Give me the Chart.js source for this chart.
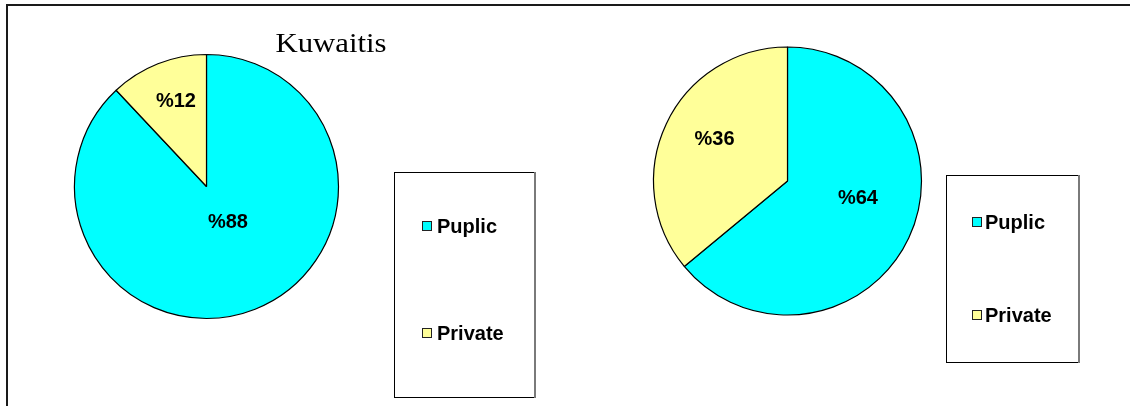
<!DOCTYPE html>
<html>
<head>
<meta charset="utf-8">
<script src="https://cdn.jsdelivr.net/npm/chart.js@4.4.1/dist/chart.umd.min.js"></script>
<style>
  html, body { margin: 0; padding: 0; background: #fff; }
  body { width: 1130px; height: 406px; position: relative; overflow: hidden; }
  #frame {
    position: absolute; left: 6px; top: 4px; width: 1200px; height: 500px;
    border-left: 2px solid #1a1a1a; border-top: 2px solid #1a1a1a;
  }
  canvas { position: absolute; top: 0; }
  #pieLeft { left: 0; }
  #pieRight { left: 565px; }
</style>
</head>
<body>
<div id="frame"></div>
<canvas id="pieLeft" width="565" height="406"></canvas>
<canvas id="pieRight" width="565" height="406"></canvas>
<script>
// Sector categories and shares (percent)
const categories = ['Puplic', 'Private'];
const kuwaitisShares = [88, 12];
const secondShares = [64, 36];
const leftTitle = 'Kuwaitis';
const sliceColors = ['#00FFFF', '#FFFF99'];

// Draws the value labels, the boxed legend and the optional title
const pieDecor = {
  id: 'pieDecor',
  afterDraw(chart, args, opts) {
    const ctx = chart.ctx;
    const meta = chart.getDatasetMeta(0);
    const ds = chart.data.datasets[0];
    ctx.save();

    // percentage labels on the slices
    ctx.font = 'bold 20px "Liberation Sans", Arial, sans-serif';
    ctx.fillStyle = '#000';
    ctx.textAlign = 'center';
    ctx.textBaseline = 'middle';
    meta.data.forEach((arc, i) => {
      const p = arc.getProps(['x', 'y', 'startAngle', 'endAngle', 'outerRadius'], true);
      const place = opts.labelPlacement[i];
      const a = (p.startAngle + p.endAngle) / 2 + place.turn * Math.PI / 180;
      const r = p.outerRadius * place.dist;
      ctx.fillText('%' + ds.data[i], p.x + Math.cos(a) * r, p.y + Math.sin(a) * r + 1);
    });

    // legend box
    const L = opts.legend;
    ctx.lineWidth = 1;
    ctx.strokeStyle = '#000';
    ctx.strokeRect(L.x + 0.5, L.y + 0.5, L.w, L.h);
    ctx.strokeStyle = '#7a7a7a';
    ctx.lineWidth = 2;
    ctx.beginPath();
    ctx.moveTo(L.x + L.w + 1, L.y);
    ctx.lineTo(L.x + L.w + 1, L.y + L.h + 1);
    ctx.stroke();

    ctx.font = 'bold 20px "Liberation Sans", Arial, sans-serif';
    ctx.textAlign = 'left';
    ctx.textBaseline = 'middle';
    chart.data.labels.forEach((label, i) => {
      const cy = L.firstY + i * L.step;
      ctx.fillStyle = ds.backgroundColor[i];
      ctx.fillRect(L.markX, cy - 5, 10, 10);
      ctx.lineWidth = 1;
      ctx.strokeStyle = '#222';
      ctx.strokeRect(L.markX + 0.5, cy - 4.5, 9, 9);
      ctx.fillStyle = '#000';
      ctx.fillText(label, L.textX, cy + 1);
    });

    // chart title
    if (opts.title) {
      const t = opts.title;
      ctx.font = '28px "Liberation Serif", "Times New Roman", serif';
      ctx.textAlign = 'center';
      ctx.textBaseline = 'alphabetic';
      ctx.fillStyle = '#000';
      ctx.translate(t.x, t.y);
      ctx.scale(1.1, 1);
      ctx.fillText(t.text, 0, 0);
    }
    ctx.restore();
  }
};

function makePie(canvasId, values, radius, padding, decor) {
  return new Chart(document.getElementById(canvasId), {
    type: 'pie',
    data: {
      labels: categories,
      datasets: [{
        data: values,
        backgroundColor: sliceColors,
        borderColor: '#000',
        borderWidth: 1.2,
        radius: radius
      }]
    },
    options: {
      responsive: false,
      animation: false,
      devicePixelRatio: 1,
      layout: { padding: padding },
      plugins: {
        legend: { display: false },
        tooltip: { enabled: false },
        pieDecor: decor
      }
    },
    plugins: [pieDecor]
  });
}

makePie('pieLeft', kuwaitisShares, 132,
  { left: 0, right: 152, top: 0, bottom: 33 },
  {
    labelPlacement: [{ dist: 0.31, turn: -10 }, { dist: 0.69, turn: 2 }],
    legend: { x: 394, y: 172, w: 140, h: 225, markX: 422, textX: 437, firstY: 226, step: 107 },
    title: { text: leftTitle, x: 331, y: 52 }
  });

makePie('pieRight', secondShares, 134,
  { left: 0, right: 120, top: 0, bottom: 44 },
  {
    labelPlacement: [{ dist: 0.54, turn: -12 }, { dist: 0.63, turn: 5 }],
    legend: { x: 381, y: 175, w: 132, h: 187, markX: 407, textX: 420, firstY: 222, step: 93 },
    title: null
  });
</script>
</body>
</html>
